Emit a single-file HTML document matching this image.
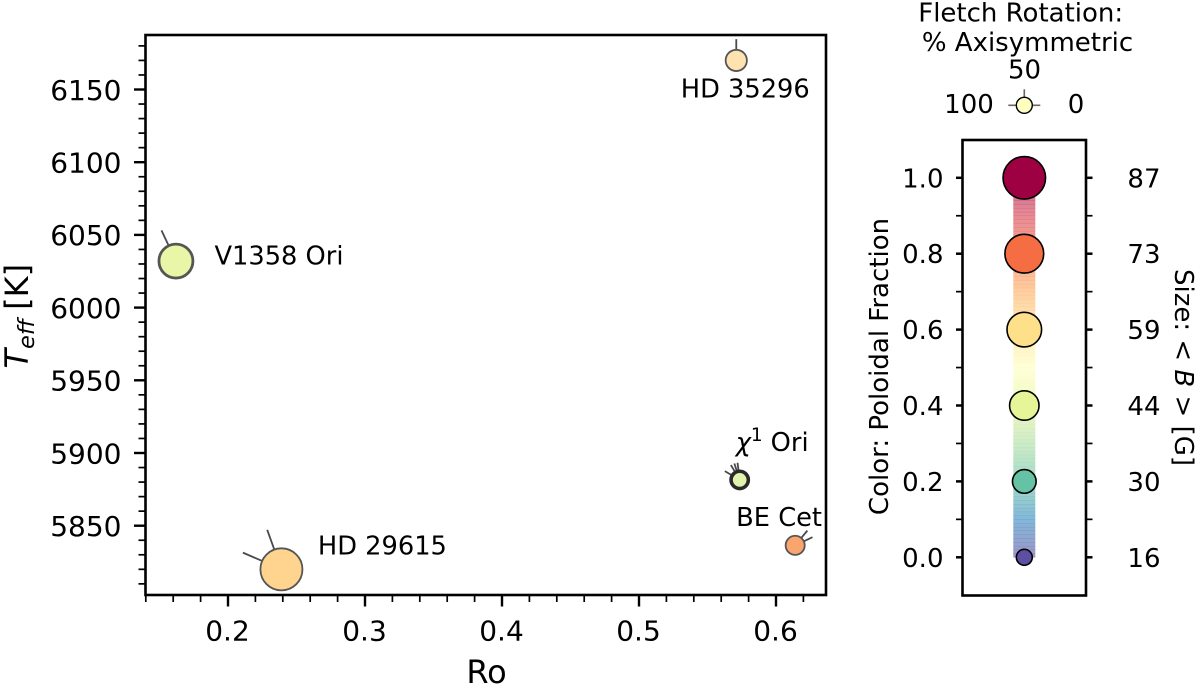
<!DOCTYPE html>
<html lang="en">
<head>
<meta charset="utf-8">
<title>Teff vs Ro</title>
<style>
  html, body { margin: 0; padding: 0; background: #fff; }
  svg { display: block; font-family: "DejaVu Sans", "Liberation Sans", sans-serif; fill: #000; }
</style>
</head>
<body>
<svg id="chart" xmlns="http://www.w3.org/2000/svg" width="1200" height="688" viewBox="0 0 1200 688">
  <rect x="0" y="0" width="1200" height="688" fill="#fff"></rect>
  <g id="main-plot"></g>
  <g id="key-plot"></g>

  <text x="486.5" y="683" font-size="32" text-anchor="middle">Ro</text>
  <text transform="translate(28,368.5) rotate(-90)" font-size="32"><tspan font-style="italic">T</tspan><tspan font-style="italic" font-size="22.5" dy="6">eff</tspan><tspan dy="-6" dx="9">[K]</tspan></text>

  <text x="1020.7" y="21.5" font-size="26" text-anchor="middle">Fletch Rotation:</text>
  <text x="1027.5" y="51" font-size="26" text-anchor="middle">% Axisymmetric</text>
  <text x="1024.5" y="78.5" font-size="26" text-anchor="middle">50</text>
  <text x="969" y="113" font-size="26" text-anchor="middle">100</text>
  <text x="1076" y="113" font-size="26" text-anchor="middle">0</text>

  <text transform="translate(888,366.5) rotate(-90)" font-size="26" text-anchor="middle">Color: Poloidal Fraction</text>
  <text transform="translate(1175,367.5) rotate(90)" font-size="26" text-anchor="middle">Size: &lt;<tspan font-style="italic"> B </tspan>&gt; [G]</text>
</svg>

<script>
// ---- chart data ----
const starNames = ['V1358 Ori', 'HD 29615', 'HD 35296', 'χ¹ Ori', 'BE Cet'];
const starRo = [0.162, 0.239, 0.571, 0.5735, 0.614];
const starTeff = [6032, 5820, 6170, 5881.5, 5836.5];
const starPoloidal = [0.40, 0.64, 0.63, 0.38, 0.74];
const starField = [57, 85, 25, 18, 21];
const starAxisymmetric = [
  [64],
  [61, 87],
  [50],
  [54, 60, 67, 83],
  [14, 28]
];
const starEpochs = [3, 1, 1, 5, 1];
const starOpacity = [0.85, 0.85, 0.62, 0.8, 0.85];

const xTickValues = [0.2, 0.3, 0.4, 0.5, 0.6];
const yTickValues = [5850, 5900, 5950, 6000, 6050, 6100, 6150];
const keyFractions = [0, 0.2, 0.4, 0.6, 0.8, 1.0];
const keyFieldLabels = [16, 30, 44, 59, 73, 87];
const spectralReversed = ['#5e4fa2','#3288bd','#66c2a5','#abdda4','#e6f598','#ffffbf','#fee08b','#fdae61','#f46d43','#d53e4f','#9e0142'];

// ---- scales ----
const SVGNS = 'http://www.w3.org/2000/svg';
const xScale = v => 228 + (v - 0.2) * 1370;
const yScale = v => 525.7 - (v - 5850) * 1.454;
const keyY = v => 557.3 - v * 379.5;
const sizeRadius = b => Math.sqrt(Math.max(4, 5.48 * b - 24));

function hexRgb(h) {
  return [1, 3, 5].map(i => parseInt(h.substr(i, 2), 16));
}
function colormap(t) {
  const p = Math.min(0.9999, Math.max(0, t)) * (spectralReversed.length - 1);
  const i = Math.floor(p), f = p - i;
  const a = hexRgb(spectralReversed[i]), b = hexRgb(spectralReversed[i + 1]);
  return 'rgb(' + a.map((c, k) => Math.round(c + (b[k] - c) * f)).join(',') + ')';
}
function make(parent, tag, attrs, txt) {
  const el = document.createElementNS(SVGNS, tag);
  for (const k in attrs) el.setAttribute(k, attrs[k]);
  if (txt !== undefined) el.textContent = txt;
  parent.appendChild(el);
  return el;
}

const main = document.getElementById('main-plot');
const key = document.getElementById('key-plot');

// ---- main axes ----
const frame = { l: 145.5, r: 826, t: 35, b: 595 };
for (let v = 0.14; v < 0.6201; v += 0.02) {
  const val = Math.round(v * 100) / 100;
  const tick = make(main, 'line', { x1: xScale(val), x2: xScale(val), y1: frame.b, y2: frame.b + 7, stroke: '#000', 'stroke-width': 1.7 });
  
  
}
for (let v = 5810; v <= 6180; v += 10) {
  const tick = make(main, 'line', { x1: frame.l - 7, x2: frame.l, y1: yScale(v), y2: yScale(v), stroke: '#000', 'stroke-width': 1.7 });
  
  
}
xTickValues.forEach(v => {
  const tick = make(main, 'line', { x1: xScale(v), x2: xScale(v), y1: frame.b, y2: frame.b + 11.5, stroke: '#000', 'stroke-width': 2.4 });
  
  
  const lab = make(main, 'text', { x: xScale(v) - 0.5, y: 640.5, 'font-size': 28, 'text-anchor': 'middle' }, v.toFixed(1));
  
  
});
yTickValues.forEach(v => {
  const tick = make(main, 'line', { x1: frame.l - 11.5, x2: frame.l, y1: yScale(v), y2: yScale(v), stroke: '#000', 'stroke-width': 2.4 });
  
  
  const lab = make(main, 'text', { x: 121.5, y: yScale(v) + 10.3, 'font-size': 28, 'text-anchor': 'end' }, String(v));
  
  
});
const mainFrame = make(main, 'rect', { x: frame.l, y: frame.t, width: frame.r - frame.l, height: frame.b - frame.t, fill: 'none', stroke: '#000', 'stroke-width': 2.6 });



// ---- stars ----
const labelOffsets = [[38.5, 3.5], [36.5, -15], [-55.5, 37], [-4, -29], [-59, -19.5]];
function drawFletches(parent, cx, cy, r, pcts, colour, width) {
  pcts.forEach(p => {
    const a = p / 100 * Math.PI;
    const fl = make(parent, 'line', {
      x1: cx + r * Math.cos(a), y1: cy - r * Math.sin(a),
      x2: cx + 2 * r * Math.cos(a), y2: cy - 2 * r * Math.sin(a),
      stroke: colour, 'stroke-width': width
    });
    
    
  });
}
starNames.forEach((name, i) => {
  const g = make(main, 'g', {});
  
  
  const cx = xScale(starRo[i]), cy = yScale(starTeff[i]), r = sizeRadius(starField[i]);
  drawFletches(g, cx, cy, r, starAxisymmetric[i], '#4a4a4a', 1.8);
  const dot = make(g, 'circle', {
    cx: cx, cy: cy, r: r,
    fill: colormap(starPoloidal[i]), 'fill-opacity': starOpacity[i],
    stroke: starEpochs[i] > 3 ? '#2a2a2a' : '#555',
    'stroke-width': starEpochs[i] > 3 ? 3.6 : (starEpochs[i] > 1 ? 2.8 : 1.8)
  });
  
  
  const tx = cx + labelOffsets[i][0], ty = cy + labelOffsets[i][1];
  let lab;
  if (name.charAt(0) === 'χ') {
    lab = make(g, 'text', { x: tx, y: ty, 'font-size': 25.7 });
    const chi = make(lab, 'tspan', { 'font-style': 'italic' }, 'χ');
    
    
    const sup = make(lab, 'tspan', { 'font-size': 18.5, dy: -10 }, '1');
    
    
    const rest = make(lab, 'tspan', { dy: 10, dx: 8 }, 'Ori');
    
    
  } else {
    lab = make(g, 'text', { x: tx, y: ty, 'font-size': 25.7 }, name);
  }
  
  
});

// ---- colour / size key ----
const box = { l: 962.5, r: 1086, t: 140, b: 595.5 };
for (let s = 0; s < 100; s++) {
  const t0 = s / 100;
  const t1 = (s + 1) / 100;
  const band = make(key, 'rect', {
    x: 1013.3, width: 22, y: keyY(t1), height: keyY(t0) - keyY(t1) + 0.3,
    fill: colormap(t0 + 0.005), 'fill-opacity': 0.6
  });
  
  
}
for (let t = 1; t < 11; t += 2) {
  const y = keyY(t / 10);
  const left = make(key, 'line', { x1: box.l - 6.5, x2: box.l, y1: y, y2: y, stroke: '#000', 'stroke-width': 1.7 });
  
  
  const right = make(key, 'line', { x1: box.r, x2: box.r + 6.5, y1: y, y2: y, stroke: '#000', 'stroke-width': 1.7 });
  
  
}
keyFractions.forEach((f, i) => {
  const y = keyY(f);
  const left = make(key, 'line', { x1: box.l - 6.5, x2: box.l, y1: y, y2: y, stroke: '#000', 'stroke-width': 2.5 });
  
  
  const right = make(key, 'line', { x1: box.r, x2: box.r + 6.5, y1: y, y2: y, stroke: '#000', 'stroke-width': 2.5 });
  
  
  const lab = make(key, 'text', { x: 943.5, y: y + 9.5, 'font-size': 26, 'text-anchor': 'end' }, f.toFixed(1));
  
  
  const sizeLab = make(key, 'text', { x: 1160.5, y: y + 9.5, 'font-size': 26, 'text-anchor': 'end' }, String(keyFieldLabels[i]));
  
  
  const dot = make(key, 'circle', { cx: 1024.3, cy: y, r: sizeRadius(keyFieldLabels[i]), fill: colormap(f), stroke: '#000', 'stroke-width': 1.6 });
  
  
});
const keyFrame = make(key, 'rect', { x: box.l, y: box.t, width: box.r - box.l, height: box.b - box.t, fill: 'none', stroke: '#000', 'stroke-width': 2.6 });



// ---- fletch legend glyph ----
const legendGlyph = make(key, 'g', {});


drawFletches(legendGlyph, 1024.3, 105.3, 8, [0, 50, 100], '#666', 1.6);
const legendDot = make(legendGlyph, 'circle', { cx: 1024.3, cy: 105.3, r: 8, fill: '#ffffbf', stroke: '#000', 'stroke-width': 1.4 });


</script>
</body>
</html>
